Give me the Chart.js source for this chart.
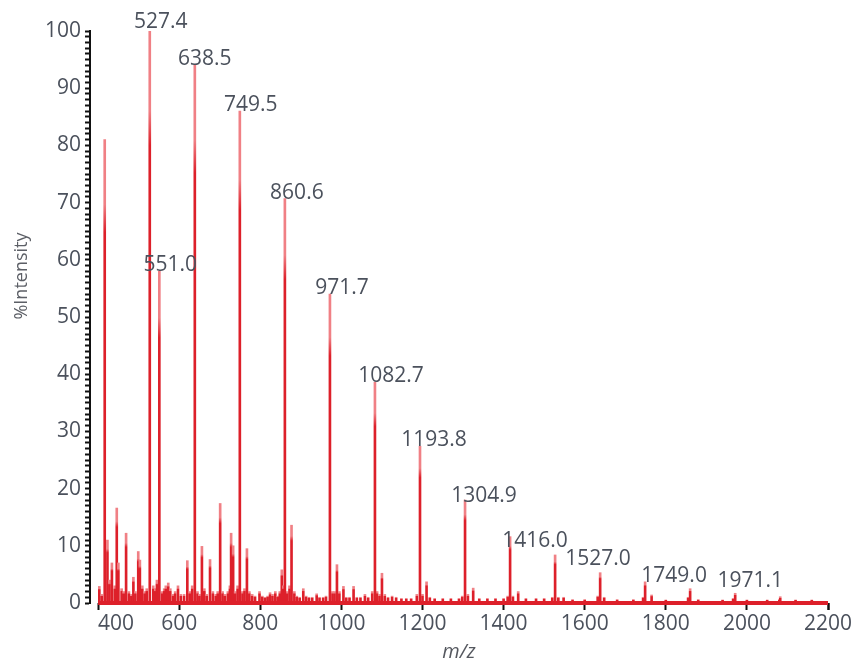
<!DOCTYPE html>
<html>
<head>
<meta charset="utf-8">
<script src="https://cdn.jsdelivr.net/npm/chart.js@4.4.1/dist/chart.umd.min.js"></script>
<style>
  html, body { margin: 0; padding: 0; background: #ffffff; }
  #wrap { width: 854px; height: 668px; position: relative; }
</style>
</head>
<body>
<div id="wrap"><canvas id="spectrum" width="854" height="668"></canvas></div>
<script>
// Main ion series: m/z and relative intensity (%)
const seriesMz = [416.3, 527.4, 551.0, 638.5, 749.5, 860.6, 971.7, 1082.7, 1193.8,
                  1304.9, 1416.0, 1527.0, 1638.1, 1749.0, 1860.0, 1971.1, 2082.2];
const seriesIntensity = [81, 100, 58, 94, 86, 70.7, 54, 38.6, 27.4,
                         18, 11.6, 8.4, 5.3, 3.7, 2.5, 1.7, 1.1];

// Peaks annotated with their m/z value
const annotatedMz = [527.4, 551.0, 638.5, 749.5, 860.6, 971.7, 1082.7, 1193.8,
                     1304.9, 1416.0, 1527.0, 1749.0, 1971.1];

// Minor and background peaks
const minorMz = [403, 409, 423, 428, 434, 441, 446, 450, 458, 463, 469, 476, 482, 487, 492,
                 499, 503, 509, 515, 520, 536, 541, 545, 558, 563, 567, 573, 578, 585, 590,
                 597, 604, 612, 620, 626, 632, 645, 650, 656, 662, 668, 676, 683, 690, 695,
                 701, 707, 713, 720, 725, 728, 733, 738, 744, 756, 761, 767, 773, 780, 787,
                 798, 805, 812, 818, 824, 830, 837, 843, 848, 853, 857, 866, 872, 877, 884,
                 890, 897, 906, 913, 920, 928, 939, 946, 955, 962, 978, 983, 989, 995, 1005,
                 1012, 1020, 1030, 1038, 1047, 1058, 1066, 1076, 1088, 1094, 1100, 1107, 1115,
                 1125, 1135, 1148, 1160, 1172, 1186, 1200, 1210, 1218, 1230, 1250, 1270, 1290,
                 1298, 1312, 1325, 1340, 1360, 1380, 1400, 1410, 1423, 1436, 1455, 1480, 1500,
                 1520, 1535, 1548, 1570, 1600, 1632, 1648, 1680, 1720, 1744, 1765, 1800, 1855,
                 1880, 1940, 1966, 2000, 2050, 2080, 2120, 2160];
const minorIntensity = [2.9, 1.5, 11, 4, 7, 3, 16.6, 7, 2.5, 2, 12.2, 2, 1.5, 4.5, 2,
                        9, 7.5, 3, 2, 2.5, 3, 2.5, 4, 2, 2.5, 3, 3.5, 2.5, 1.5, 2,
                        3, 1.5, 1.5, 7.4, 2, 3, 2, 1.5, 9.9, 2.5, 1.5, 7.6, 2, 1.5, 2,
                        17.4, 2, 1.5, 2, 3, 12.2, 10, 2, 3, 2, 2.5, 9.5, 2, 1.5, 1.2,
                        2, 1.2, 1, 1.2, 1.8, 1.5, 2, 1.2, 2, 5.8, 3, 2, 3, 13.6, 2,
                        1.2, 1, 2.5, 1.2, 1, 1, 1.6, 1, 1, 1.2, 2, 2, 6.7, 2, 2.9,
                        1, 1, 2.9, 1, 1, 1.5, 1, 2, 2, 1.5, 5.2, 1.5, 1,
                        1.2, 1, 0.8, 0.8, 0.8, 1.5, 1.5, 3.7, 1, 0.8, 0.8, 0.8, 0.8,
                        1.2, 1.5, 2.6, 0.8, 0.8, 0.8, 0.8, 1.2, 1.2, 2, 0.8, 0.8, 0.8,
                        1, 1, 1, 0.6, 0.6, 1.2, 1, 0.6, 0.6, 1, 1.4, 0.5, 1,
                        0.6, 0.5, 0.8, 0.5, 0.5, 0.6, 0.5, 0.5];

// Spectrum baseline span (m/z) and level (%)
const baselineMz = [400, 2200];
const baselineIntensity = [0, 0];

// Axis ticks
const xTickValues = [400, 600, 800, 1000, 1200, 1400, 1600, 1800, 2000, 2200];
const yTickLabels = [0, 10, 20, 30, 40, 50, 60, 70, 80, 90, 100];

// Label placement tweaks (pixels): [dx, dy] from peak apex
const annotationNudge = {
  '527.4': [11, -3], '551.0': [11, 0], '638.5': [10, 0], '749.5': [11, 0],
  '860.6': [12, 0], '971.7': [12, 0], '1082.7': [16, 0], '1193.8': [14, 0],
  '1304.9': [19, 2], '1416.0': [25, 10], '1527.0': [43, 10], '1749.0': [29, 0],
  '1971.1': [15, -6]
};

const RED_DARK = 'rgb(221, 32, 42)';
const RED_LIGHT = 'rgb(240, 128, 133)';
const TEXT = '#4b515c';
const FONT = '"Open Sans", "Liberation Sans", sans-serif';

function peakColor(ctx) {
  const chart = ctx.chart;
  if (!chart.chartArea || ctx.type !== 'data') return RED_DARK;
  const ys = chart.scales.y;
  const top = ys.getPixelForValue(ctx.parsed.y);
  const base = ys.getPixelForValue(0);
  if (base - top < 3) return RED_DARK;
  const g = chart.ctx.createLinearGradient(0, base, 0, top);
  g.addColorStop(0, RED_DARK);
  g.addColorStop(0.8, RED_DARK);
  g.addColorStop(0.86, RED_LIGHT);
  g.addColorStop(1, RED_LIGHT);
  return g;
}

const toPoints = (xs, ys) => xs.map((x, i) => ({ x: x, y: ys[i] }));

// Peak value annotations and rotated y title
const annotations = {
  id: 'annotations',
  afterDatasetsDraw(chart) {
    const { ctx, scales: { x, y } } = chart;
    ctx.save();
    ctx.fillStyle = TEXT;
    ctx.font = '21px ' + FONT;
    ctx.textAlign = 'center';
    ctx.textBaseline = 'alphabetic';
    annotatedMz.forEach(mz => {
      const i = seriesMz.indexOf(mz);
      if (i < 0) return;
      const key = mz.toFixed(1);
      const n = annotationNudge[key] || [0, 0];
      const px = x.getPixelForValue(mz) + n[0];
      const py = y.getPixelForValue(seriesIntensity[i]) + n[1];
      ctx.fillText(key, px, py);
    });
    ctx.restore();
  },
  afterDraw(chart) {
    const { ctx } = chart;
    ctx.save();
    ctx.translate(22, 276);
    ctx.rotate(-Math.PI / 2);
    ctx.fillStyle = '#5c5f66';
    ctx.font = '18px ' + FONT;
    ctx.textAlign = 'center';
    ctx.textBaseline = 'middle';
    ctx.fillText('%Intensity', 0, 0);
    ctx.restore();
  }
};

new Chart(document.getElementById('spectrum'), {
  type: 'bar',
  data: {
    datasets: [
      {
        type: 'line',
        data: toPoints(baselineMz, baselineIntensity),
        borderColor: RED_DARK,
        borderWidth: 4,
        pointRadius: 0,
        clip: false,
        order: 3
      },
      {
        data: toPoints(minorMz, minorIntensity),
        backgroundColor: peakColor,
        barThickness: 2,
        grouped: false,
        order: 2
      },
      {
        data: toPoints(seriesMz, seriesIntensity),
        backgroundColor: peakColor,
        barThickness: 2,
        grouped: false,
        order: 1
      }
    ]
  },
  options: {
    responsive: false,
    animation: false,
    events: [],
    layout: { padding: { left: 0, right: 26, top: 31, bottom: 0 } },
    plugins: { legend: { display: false }, tooltip: { enabled: false } },
    scales: {
      x: {
        type: 'linear',
        offset: false,
        min: 380,
        max: 2200,
        afterFit(scale) { scale.height = 65; },
        afterBuildTicks(scale) {
          // trailing duplicate keeps the last real label centred under 'inner' alignment
          scale.ticks = xTickValues.concat([xTickValues[xTickValues.length - 1]]).map(v => ({ value: v }));
        },
        border: { display: false },
        grid: { drawOnChartArea: false, offset: false, tickLength: 7, tickWidth: 2, tickColor: '#111' },
        ticks: {
          align: 'inner',
          autoSkip: false,
          maxRotation: 0,
          padding: 1,
          color: TEXT,
          font: { family: FONT, size: 21 },
          callback(value, index, ticks) { return index === ticks.length - 1 ? '' : String(value); }
        },
        title: {
          display: true,
          text: 'm/z',
          color: '#55585f',
          font: { family: FONT, size: 20, style: 'italic' },
          padding: { top: 0, bottom: 4 }
        }
      },
      y: {
        min: 0,
        max: 100,
        afterFit(scale) { scale.width = 90; },
        border: { display: true, color: '#111', width: 2 },
        grid: { drawOnChartArea: false, tickLength: 5, tickWidth: 2, tickColor: '#111' },
        ticks: {
          stepSize: 1,
          autoSkip: false,
          padding: 4,
          color: TEXT,
          font: { family: FONT, size: 21 },
          callback(value) { return yTickLabels.includes(value) ? String(value) : ''; }
        }
      }
    }
  },
  plugins: [annotations]
});
</script>
</body>
</html>
